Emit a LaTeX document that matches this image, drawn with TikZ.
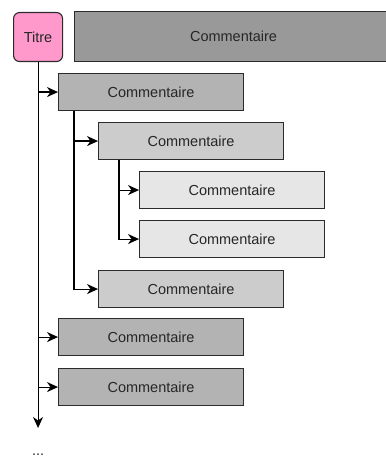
\documentclass[tikz,border=0pt]{standalone}
\usepackage{fontspec}
\setmainfont{Liberation Sans}
\usepackage{xcolor}
\definecolor{titrepink}{HTML}{FF99CC}
\definecolor{edge}{HTML}{2B2B2B}
\definecolor{level0}{HTML}{999999}
\definecolor{level1}{HTML}{B3B3B3}
\definecolor{level2}{HTML}{CCCCCC}
\definecolor{level3}{HTML}{E6E6E6}
\usetikzlibrary{arrows.meta, positioning}

\begin{document}
\begin{tikzpicture}[x=1pt, y=-1pt,
  every node/.style={font=\fontsize{14.5}{17}\selectfont, text=black!85},
  comment/.style={rectangle, draw=edge, fill=#1, line width=1.1pt,
                  anchor=north west, minimum width=185pt, minimum height=37pt,
                  inner sep=0pt},
  titre/.style={rectangle, rounded corners=6pt, draw=edge, fill=titrepink,
                line width=1.1pt, anchor=north west, minimum width=49pt,
                minimum height=49pt, inner sep=0pt},
  link/.style={-{Stealth[length=11pt, width=10pt, inset=3.5pt]}, line width=1.1pt}
]
  \useasboundingbox (0,0) rectangle (385,457);

  \node[titre] (titre) at (13,12) {Titre};
  \node[comment=level0, minimum width=318pt, minimum height=50pt] (head) at (74,11) {Commentaire};

  \node[comment=level1] (c1) at (58,73) {Commentaire};
  \node[comment=level2] (c2) at (98,122) {Commentaire};
  \node[comment=level3] (c3) at (139,171) {Commentaire};
  \node[comment=level3] (c4) at (139,220) {Commentaire};
  \node[comment=level2] (c5) at (98,270) {Commentaire};
  \node[comment=level1] (c6) at (58,318) {Commentaire};
  \node[comment=level1] (c7) at (58,368) {Commentaire};

  \coordinate (fin) at (titre.south |- 0,428);
  \node[anchor=base] (suite) at (titre.south |- 0,455) {...};

  \draw[link] (titre.south) -- (fin);
  \draw[link] (titre.south) |- (c1.west);
  \draw[link] (titre.south) |- (c6.west);
  \draw[link] (titre.south) |- (c7.west);

  \draw[link] ([xshift=16pt]c1.south west) |- (c2.west);
  \draw[link] ([xshift=16pt]c1.south west) |- (c5.west);

  \draw[link] ([xshift=21pt]c2.south west) |- (c3.west);
  \draw[link] ([xshift=21pt]c2.south west) |- (c4.west);
\end{tikzpicture}
\end{document}
